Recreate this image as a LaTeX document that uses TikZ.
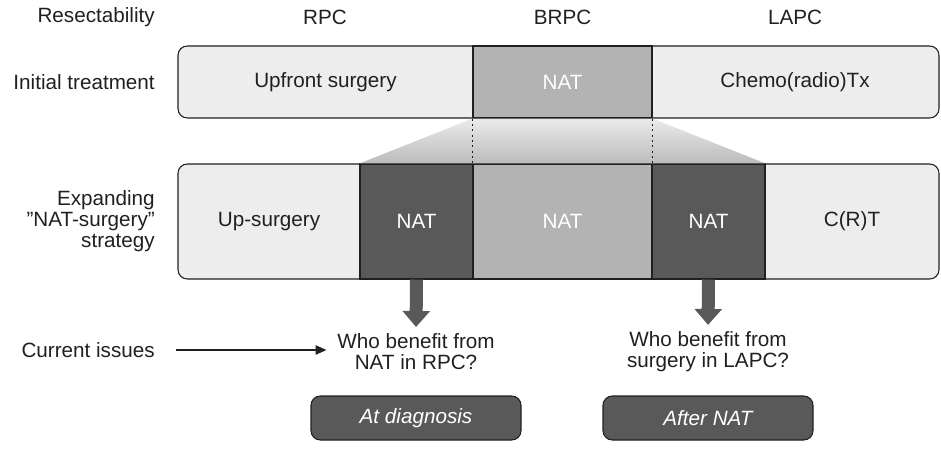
\documentclass[tikz,border=0pt]{standalone}
\usepackage{fontspec}
\setmainfont{Liberation Sans}
\usetikzlibrary{arrows.meta}
\definecolor{inkcol}{HTML}{231F20}
\definecolor{lightfill}{HTML}{EDEDED}
\definecolor{midfill}{HTML}{B3B3B3}
\definecolor{darkfill}{HTML}{595959}
\definecolor{fadetop}{HTML}{EBEBEB}
\definecolor{fadebottom}{HTML}{BBBBBB}

\begin{document}
\begin{tikzpicture}[x=0.75pt, y=-0.75pt, font=\fontsize{15.5}{15.75}\selectfont, text=inkcol]
	\tikzstyle{bar}=[draw=inkcol, line width=0.8pt, fill=lightfill, rounded corners=7pt, inner sep=0pt]
	\tikzstyle{seg}=[draw=inkcol, line width=0.8pt, inner sep=0pt, text=white]
	\tikzstyle{rowlabel}=[anchor=east, align=right, inner sep=0pt]
	\tikzstyle{question}=[align=center, inner sep=0pt]
	\tikzstyle{timebox}=[seg, fill=darkfill, rounded corners=7pt, minimum width=157.5pt, minimum height=33pt, font=\fontsize{15.5}{15.75}\selectfont\itshape]
	\tikzstyle{bigarrow}=[draw=darkfill, line width=9.75pt, -{Triangle[width=20pt,length=12pt]}, shorten >=5pt]
	\tikzstyle{guide}=[inkcol, line width=0.9pt, dash pattern=on 1.5pt off 2.5pt]
	
	\useasboundingbox (0,0) rectangle (941,452);
	
	% header row
	\node[rowlabel] (resect) at (155,17) {Resectability};
	\node (rpc) at (325,17) {RPC};
	\node (brpc) at (562.5,17) {BRPC};
	\node (lapc) at (795,17) {LAPC};
	
	% initial treatment
	\node[rowlabel] (initlab) at (155,82) {Initial treatment};
	\node[bar, minimum width=570.75pt, minimum height=54pt] (init) at (558.5,82) {};
	\node[seg, fill=midfill, minimum width=134.25pt, minimum height=54pt] (natmid) at (562.5,82) {NAT};
	\node (upfront) at (325.5,82) {Upfront surgery};
	\node (chemo) at (795,82) {Chemo(radio)Tx};
	
	% expanding strategy
	\node[rowlabel] (expandlab) at (155,221) {Expanding\\\symbol{34}NAT-surgery\symbol{34}\\strategy};
	\node[bar, minimum width=570.75pt, minimum height=86.25pt] (expand) at (558.5,221.5) {};
	\node[seg, fill=darkfill, minimum width=84.75pt, minimum height=86.25pt] (natl) at (416.5,221.5) {NAT};
	\node[seg, fill=midfill, minimum width=134.25pt, minimum height=86.25pt] (natc) at (562.5,221.5) {NAT};
	\node[seg, fill=darkfill, minimum width=84.75pt, minimum height=86.25pt] (natr) at (708.5,221.5) {NAT};
	\node (upsurg) at (269,221.5) {Up-surgery};
	\node (crt) at (852,221.5) {C(R)T};
	
	\shade[top color=fadetop, bottom color=fadebottom] (natmid.south west) -- (natmid.south east) -- (natr.north east) -- (natl.north west) -- cycle;
	\draw[guide] (natmid.south west) -- (natc.north west);
	\draw[guide] (natmid.south east) -- (natc.north east);
	
	% current issues
	\node[rowlabel] (issues) at (155,350) {Current issues};
	\node[question] (qrpc) at (416,352) {Who benefit from\\NAT in RPC?};
	\node[question] (qlapc) at (708,352) {Who benefit from\\surgery in LAPC?};
	\draw[inkcol, line width=0.8pt, -{Triangle[length=8pt,width=7pt]}, shorten <=16pt, shorten >=8pt] (issues.east) -- (issues.east -| qrpc.west);
	\draw[bigarrow] (natl.south) -- (qrpc.north);
	\draw[bigarrow] (natr.south) -- (qlapc.north);
	
	\node[timebox] (diag) at (416,418) {At diagnosis};
	\node[timebox] (afternat) at (708,418) {After NAT};
\end{tikzpicture}
\end{document}
